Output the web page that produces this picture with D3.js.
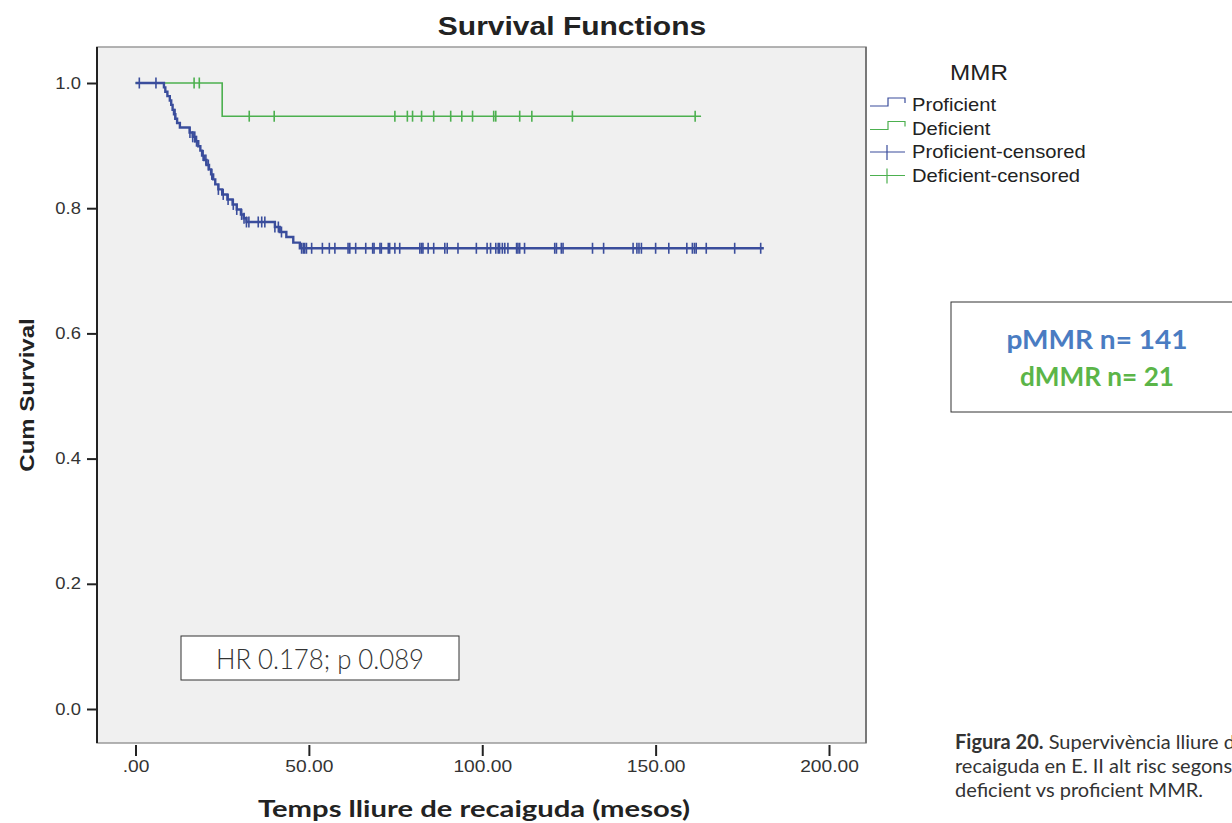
<!DOCTYPE html>
<html>
<head>
<meta charset="utf-8">
<script src="https://cdn.jsdelivr.net/npm/d3@7"></script>
<style>
  body { margin: 0; background: #fff; }
  svg { display: block; overflow: hidden; }
</style>
</head>
<body>
<div id="chart"></div>
<script>
// Proficient (pMMR) step points: [time, survival after event]
const proficientSteps = [
  [0, 1.0], [8.2, 0.993], [8.6, 0.986], [9.2, 0.979], [9.9, 0.972], [10.3, 0.965],
  [10.7, 0.957], [11.1, 0.950], [11.5, 0.943], [12.0, 0.936], [12.8, 0.929],
  [15.6, 0.921], [16.5, 0.914], [17.2, 0.907], [18.1, 0.899], [18.7, 0.892],
  [19.2, 0.884], [19.8, 0.877], [20.5, 0.869], [21.2, 0.862], [21.8, 0.854],
  [22.4, 0.846], [23.0, 0.838], [23.9, 0.830], [25.0, 0.822], [26.5, 0.814],
  [28.0, 0.806], [29.2, 0.798], [30.4, 0.790], [31.2, 0.784], [32.0, 0.778],
  [40.2, 0.770], [41.6, 0.762], [43.5, 0.754], [45.5, 0.745], [47.4, 0.736]
];
const proficientCensored = [
  1.1, 5.9, 11.4, 15.7, 16.5, 17.1, 17.6, 19.5, 20.3, 21.0, 22.0, 23.9, 25.3, 26.7,
  28.2, 29.2, 30.6, 31.3, 32.0, 32.7, 35.4, 36.4, 37.3, 40.2, 41.2, 42.1,
  47.9, 48.4, 48.8, 49.3, 50.8, 53.9, 55.9, 57.5, 61.3, 61.8, 63.5, 66.4, 68.4, 68.8,
  70.5, 70.9, 72.9, 73.3, 74.8, 76.2, 82.0, 82.5, 82.9, 84.4, 86.0, 89.2, 89.9, 93.0,
  98.3, 101.4, 102.4, 103.9, 104.6, 105.0, 105.8, 106.5, 107.4, 109.9, 110.3, 110.8,
  112.2, 120.9, 121.4, 122.8, 123.3, 131.8, 135.0, 143.5, 144.6, 145.2, 145.9, 150.0,
  153.8, 159.0, 160.6, 161.2, 161.7, 164.6, 172.8, 180.3
];
const proficientEnd = 181.2;

// Deficient (dMMR)
const deficientSteps = [[0, 1.0], [25.0, 0.947]];
const deficientCensored = [
  16.9, 18.4, 32.8, 40.0, 74.8, 78.4, 79.9, 82.5, 86.0, 90.9, 94.1, 97.2,
  103.3, 103.9, 110.8, 114.3, 126.0, 161.4
];
const deficientEnd = 163.1;

const xTicks = [0, 50, 100, 150, 200];
const yTicks = [0, 0.2, 0.4, 0.6, 0.8, 1.0];
const legendLabels = ["Proficient", "Deficient", "Proficient-censored", "Deficient-censored"];
const captionLines = [
  ["Figura 20.", " Supervivència lliure de"],
  ["", "recaiguda en E. II alt risc segons"],
  ["", "deficient vs proficient MMR."]
];

const blue = "#3a4d9c";
const green = "#4cb04f";
const spss = "Liberation Sans, Arial, sans-serif";
const myriad = "Lato, Open Sans, sans-serif";

const width = 1232;
const height = 823;
const frame = { left: 97, top: 47, right: 866, bottom: 743 };

const svg = d3.select("#chart")
  .append("svg")
    .attr("width", width)
    .attr("height", height);

const x = d3.scaleLinear().domain([0, 200]).range([135.5, 829]);
const y = d3.scaleLinear().domain([0, 1]).range([709, 83]);

// plot frame
svg.append("rect")
  .attr("x", frame.left)
  .attr("y", frame.top)
  .attr("width", frame.right - frame.left)
  .attr("height", frame.bottom - frame.top)
  .attr("fill", "#f0f0f0")
  .attr("stroke", "#9a9a9a")
  .attr("stroke-width", 1.5);

svg.append("line")
  .attr("x1", frame.right).attr("x2", frame.right)
  .attr("y1", frame.top).attr("y2", frame.bottom)
  .attr("stroke", "#666").attr("stroke-width", 1.5);

// y axis
const yAxis = svg.append("g")
  .attr("transform", `translate(${frame.left},0)`)
  .call(d3.axisLeft(y).tickValues(yTicks).tickSize(10).tickFormat(d3.format(".1f")));
yAxis.select(".domain").remove();
yAxis.append("line")
  .attr("y1", frame.top).attr("y2", frame.bottom)
  .attr("stroke", "#222").attr("stroke-width", 2);
yAxis.selectAll(".tick line").attr("stroke", "#222").attr("stroke-width", 2);
yAxis.selectAll(".tick text")
  .attr("font-family", spss)
  .attr("font-size", 16)
  .attr("fill", "#333")
  .attr("x", -14)
  .attr("transform", "scale(1.15,1)");

// x axis
const xAxis = svg.append("g")
  .attr("transform", `translate(0,${frame.bottom + 2})`)
  .call(d3.axisBottom(x).tickValues(xTicks).tickSize(11)
    .tickFormat(d => d === 0 ? ".00" : d3.format(".2f")(d)));
xAxis.select(".domain").remove();
xAxis.selectAll(".tick line").attr("stroke", "#222").attr("stroke-width", 2);
xAxis.selectAll(".tick text")
  .attr("font-family", spss)
  .attr("font-size", 16)
  .attr("fill", "#333")
  .attr("y", 16)
  .attr("transform", "scale(1.2,1)");

function survivalAt(steps, t) {
  let s = steps[0][1];
  steps.forEach(d => { if (d[0] <= t) s = d[1]; });
  return s;
}

const stepLine = d3.line()
  .x(d => x(d[0]))
  .y(d => y(d[1]))
  .curve(d3.curveStepAfter);

const groups = [
  { steps: deficientSteps, censored: deficientCensored, end: deficientEnd, color: green, width: 1.6 },
  { steps: proficientSteps, censored: proficientCensored, end: proficientEnd, color: blue, width: 2.4 }
];

groups.forEach(g => {
  const pts = g.steps.concat([[g.end, g.steps[g.steps.length - 1][1]]]);
  svg.append("path")
    .datum(pts)
    .attr("d", stepLine)
    .attr("fill", "none")
    .attr("stroke", g.color)
    .attr("stroke-width", g.width);

  svg.append("g")
    .selectAll("line")
    .data(g.censored)
    .join("line")
      .attr("x1", d => x(d))
      .attr("x2", d => x(d))
      .attr("y1", d => y(survivalAt(g.steps, d)) - 5.5)
      .attr("y2", d => y(survivalAt(g.steps, d)) + 5.5)
      .attr("stroke", g.color)
      .attr("stroke-width", 1.6);
});

// title
svg.append("text")
  .attr("transform", "translate(572,35) scale(1.2,1)")
  .attr("text-anchor", "middle")
  .attr("font-family", spss)
  .attr("font-weight", "bold")
  .attr("font-size", 25)
  .attr("fill", "#222")
  .text("Survival Functions");

// y title
svg.append("text")
  .attr("transform", "translate(34,395) rotate(-90) scale(1.2,1)")
  .attr("text-anchor", "middle")
  .attr("font-family", spss)
  .attr("font-weight", "bold")
  .attr("font-size", 20)
  .attr("fill", "#222")
  .text("Cum Survival");

// x title
svg.append("text")
  .attr("x", 474)
  .attr("y", 817)
  .attr("text-anchor", "middle")
  .attr("font-family", myriad)
  .attr("font-weight", "bold")
  .attr("font-size", 23)
  .attr("textLength", 432)
  .attr("lengthAdjust", "spacingAndGlyphs")
  .attr("fill", "#222")
  .text("Temps lliure de recaiguda (mesos)");

// legend
svg.append("text")
  .attr("transform", "translate(979,80) scale(1.1,1)")
  .attr("text-anchor", "middle")
  .attr("font-family", spss)
  .attr("font-size", 22)
  .attr("fill", "#222")
  .text("MMR");

const legendColors = [blue, green, blue, green];
const legend = svg.append("g")
  .selectAll("g")
  .data(legendLabels)
  .join("g")
    .attr("transform", (d, i) => `translate(870,${105 + i * 23.5})`);

legend.filter((d, i) => i < 2)
  .append("path")
    .attr("d", "M0,1 H18 V-7 H35 V-2")
    .attr("fill", "none")
    .attr("stroke", (d, i) => legendColors[i])
    .attr("stroke-width", 1.2);

legend.filter((d, i) => i >= 2)
  .append("path")
    .attr("d", "M0,0 H35 M17,-7 V8")
    .attr("fill", "none")
    .attr("stroke", (d, i) => legendColors[i + 2])
    .attr("stroke-width", 1.2);

legend.append("text")
  .attr("transform", "translate(42,6) scale(1.12,1)")
  .attr("font-family", spss)
  .attr("font-size", 18)
  .attr("fill", "#222")
  .text(d => d);

// HR box
svg.append("rect")
  .attr("x", 181).attr("y", 636)
  .attr("width", 278).attr("height", 44)
  .attr("fill", "#fff")
  .attr("stroke", "#333").attr("stroke-width", 1);
svg.append("text")
  .attr("x", 320).attr("y", 669)
  .attr("text-anchor", "middle")
  .attr("font-family", myriad)
  .attr("font-weight", 300)
  .attr("font-size", 27)
  .attr("textLength", 208)
  .attr("lengthAdjust", "spacingAndGlyphs")
  .attr("fill", "#333")
  .text("HR 0.178; p 0.089");

// n box
svg.append("rect")
  .attr("x", 951).attr("y", 302)
  .attr("width", 300).attr("height", 110)
  .attr("fill", "#fff")
  .attr("stroke", "#333").attr("stroke-width", 1);
svg.append("text")
  .attr("x", 1097).attr("y", 349)
  .attr("text-anchor", "middle")
  .attr("font-family", myriad)
  .attr("font-weight", "bold")
  .attr("font-size", 27)
  .attr("textLength", 181)
  .attr("lengthAdjust", "spacingAndGlyphs")
  .attr("fill", "#4a7cc2")
  .text("pMMR n= 141");
svg.append("text")
  .attr("x", 1097).attr("y", 386)
  .attr("text-anchor", "middle")
  .attr("font-family", myriad)
  .attr("font-weight", "bold")
  .attr("font-size", 27)
  .attr("textLength", 154)
  .attr("lengthAdjust", "spacingAndGlyphs")
  .attr("fill", "#5bb548")
  .text("dMMR n= 21");

// caption
captionLines.forEach((line, i) => {
  const t = svg.append("text")
    .attr("x", 955)
    .attr("y", 749 + i * 24)
    .attr("font-family", myriad)
    .attr("font-size", 20)
    .attr("fill", "#333");
  if (line[0]) t.append("tspan").attr("font-weight", "bold").text(line[0]);
  t.append("tspan").text(line[1]);
});
</script>
</body>
</html>
